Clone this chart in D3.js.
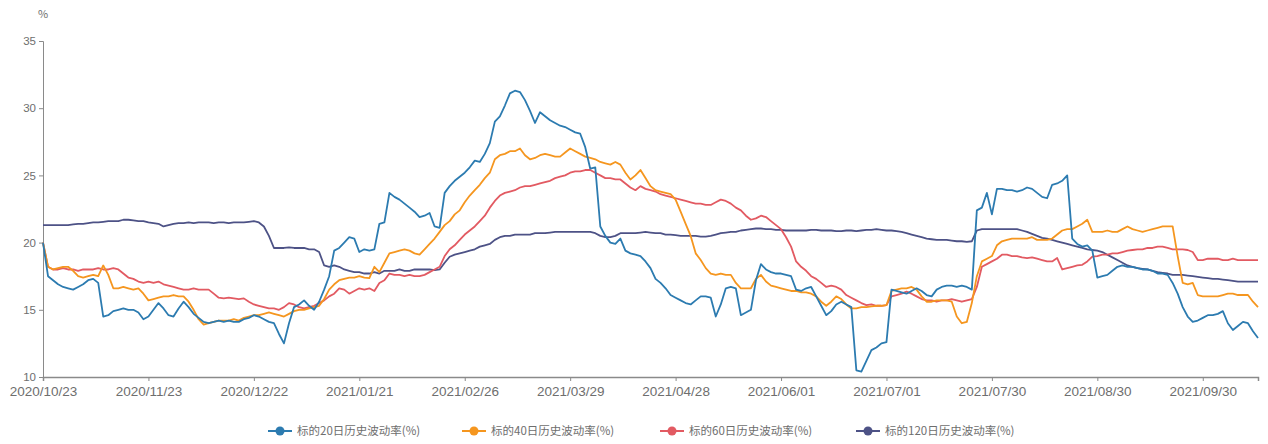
<!DOCTYPE html>
<html><head><meta charset="utf-8">
<script src="https://cdn.jsdelivr.net/npm/d3@7"></script>
<style>
html,body{margin:0;padding:0;background:#fff;}
svg{display:block;font-family:"Noto Sans CJK SC","Noto Sans",sans-serif;}
</style></head>
<body><svg id="c" width="1268" height="444"></svg>
<script>
// ---- data ----
const startDate = "2020-10-23";
const holidays = ["2021-01-01","2021-02-11","2021-02-12","2021-02-15","2021-02-16","2021-02-17","2021-04-05","2021-05-03","2021-05-04","2021-05-05","2021-06-14","2021-09-20","2021-09-21","2021-10-01","2021-10-04","2021-10-05","2021-10-06","2021-10-07"];
const tickLabels = ["2020/10/23","2020/11/23","2020/12/22","2021/01/21","2021/02/26","2021/03/29","2021/04/28","2021/06/01","2021/07/01","2021/07/30","2021/08/30","2021/09/30"];
const yTicks = [10,15,20,25,30,35];
const seriesNames = ["标的20日历史波动率(%)","标的40日历史波动率(%)","标的60日历史波动率(%)","标的120日历史波动率(%)"];
const seriesColors = ["#2c7bb0","#f5961f","#e25a62","#4d5286"];

const vol20 = [
20.0,17.5,17.2,16.9,16.7,16.6,16.5,16.7,16.9,17.2,
17.3,17.0,14.5,14.6,14.9,15.0,15.1,15.0,15.0,14.8,
14.3,14.5,15.0,15.5,15.1,14.6,14.5,15.1,15.6,15.2,
14.7,14.4,14.1,14.0,14.1,14.2,14.1,14.2,14.1,14.1,
14.3,14.4,14.6,14.5,14.3,14.1,14.0,13.2,12.5,14.0,
15.2,15.4,15.7,15.3,15.0,15.6,16.5,17.5,19.4,19.6,
20.0,20.4,20.3,19.3,19.5,19.4,19.5,21.4,21.5,23.7,
23.4,23.2,22.9,22.6,22.3,21.9,22.0,22.2,21.2,21.1,
23.7,24.2,24.6,24.9,25.2,25.6,26.1,26.0,26.6,27.4,
29.0,29.4,30.2,31.1,31.3,31.2,30.6,29.8,28.9,29.7,
29.4,29.1,28.9,28.7,28.6,28.4,28.2,28.1,27.1,25.5,
25.6,21.2,20.5,20.0,19.9,20.3,19.4,19.2,19.1,19.0,
18.6,18.1,17.3,17.0,16.6,16.1,15.9,15.7,15.5,15.4,
15.7,16.0,16.0,15.9,14.5,15.4,16.6,16.7,16.6,14.6,
14.8,15.0,17.2,18.4,18.0,17.8,17.7,17.7,17.6,17.5,
16.5,16.4,16.6,16.7,16.0,15.3,14.6,14.9,15.4,15.6,
15.4,15.2,10.5,10.4,11.2,12.0,12.2,12.5,12.6,16.5,
16.4,16.3,16.2,16.4,16.6,16.4,16.1,16.0,16.5,16.7,
16.8,16.8,16.7,16.8,16.7,16.5,22.4,22.6,23.7,22.1,
24.0,24.0,23.9,23.9,23.8,23.9,24.1,24.0,23.7,23.4,
23.3,24.3,24.4,24.6,25.0,20.3,19.9,19.7,19.8,19.4,
17.4,17.5,17.6,17.9,18.2,18.3,18.2,18.2,18.1,18.0,
18.0,17.9,17.7,17.7,17.6,17.0,16.2,15.2,14.5,14.1,
14.2,14.4,14.6,14.6,14.7,14.9,14.0,13.5,13.8,14.1,
14.0,13.4,12.9];

const vol40 = [
20.0,18.2,18.0,18.1,18.2,18.2,17.9,17.5,17.4,17.5,
17.6,17.5,18.3,17.6,16.6,16.6,16.7,16.6,16.5,16.6,
16.2,15.7,15.8,15.9,16.0,16.0,16.1,16.0,16.0,15.6,
15.0,14.3,13.9,14.0,14.1,14.2,14.2,14.2,14.3,14.2,
14.4,14.5,14.6,14.6,14.7,14.8,14.7,14.6,14.5,14.7,
14.9,15.0,15.0,15.1,15.2,15.3,15.8,16.5,16.9,17.2,
17.3,17.4,17.4,17.5,17.4,17.35,18.2,17.8,18.5,19.2,
19.3,19.4,19.5,19.4,19.2,19.1,19.5,19.9,20.3,20.8,
21.3,21.6,22.1,22.4,23.0,23.5,23.9,24.3,24.8,25.2,
26.2,26.5,26.6,26.8,26.8,27.0,26.5,26.2,26.3,26.5,
26.6,26.5,26.4,26.4,26.7,27.0,26.8,26.6,26.4,26.3,
26.2,26.0,25.9,25.8,26.0,25.8,25.2,24.7,25.0,25.4,
24.8,24.2,23.9,23.8,23.7,23.6,23.2,22.3,21.4,20.5,
19.2,18.7,18.1,17.7,17.6,17.7,17.6,17.6,17.0,16.6,
16.6,16.6,17.3,17.6,17.1,16.8,16.7,16.6,16.5,16.4,
16.4,16.3,16.3,16.2,16.0,15.6,15.3,15.6,16.0,15.8,
15.4,15.1,15.1,15.2,15.2,15.25,15.3,15.3,15.35,16.4,
16.5,16.6,16.6,16.7,16.5,16.0,15.6,15.6,15.7,15.7,
15.7,15.6,14.5,14.0,14.1,15.5,17.5,18.6,18.8,19.0,
19.8,20.1,20.2,20.3,20.3,20.3,20.3,20.4,20.2,20.2,
20.2,20.3,20.6,20.9,21.0,21.0,21.2,21.4,21.7,20.8,
20.8,20.8,20.9,20.8,20.8,21.0,21.2,21.0,20.9,20.8,
20.9,21.0,21.1,21.2,21.2,21.2,19.0,17.0,16.9,17.0,
16.1,16.0,16.0,16.0,16.0,16.1,16.2,16.2,16.1,16.1,
16.1,15.6,15.2];

const vol60 = [
20.0,18.2,18.0,18.0,18.1,18.0,18.0,17.9,18.0,18.0,
18.0,18.1,18.0,18.0,18.1,18.0,17.7,17.4,17.3,17.1,
17.0,17.1,17.0,17.1,16.9,16.8,16.7,16.6,16.5,16.5,
16.6,16.5,16.5,16.5,16.2,15.9,15.85,15.9,15.85,15.8,
15.85,15.6,15.4,15.3,15.2,15.1,15.1,15.0,15.2,15.5,
15.4,15.2,15.1,15.2,15.3,15.5,15.7,16.0,16.2,16.6,
16.5,16.2,16.4,16.6,16.5,16.6,16.4,17.0,17.2,17.7,
17.6,17.6,17.5,17.6,17.5,17.5,17.6,17.8,18.0,18.2,
19.0,19.5,19.8,20.2,20.6,20.9,21.2,21.6,22.0,22.6,
23.1,23.5,23.7,23.8,23.9,24.1,24.2,24.2,24.3,24.4,
24.5,24.6,24.8,24.9,25.0,25.2,25.3,25.3,25.4,25.4,
25.2,25.0,24.8,24.8,24.7,24.7,24.4,24.1,23.9,24.2,
24.0,23.9,23.8,23.6,23.5,23.4,23.3,23.2,23.1,23.0,
22.9,22.9,22.8,22.8,23.0,23.2,23.1,22.9,22.6,22.4,
22.0,21.7,21.8,22.0,21.9,21.6,21.3,21.0,20.4,19.7,
18.6,18.2,17.9,17.5,17.3,17.0,16.7,16.8,16.7,16.5,
16.1,15.9,15.7,15.5,15.35,15.4,15.3,15.3,15.35,16.0,
16.1,16.2,16.35,16.2,16.0,15.8,15.7,15.7,15.6,15.7,
15.7,15.8,15.7,15.6,15.7,15.8,16.7,18.2,18.4,18.6,
18.8,19.1,19.1,19.0,19.0,18.9,18.85,18.9,18.8,18.7,
18.6,18.6,18.85,18.0,18.1,18.2,18.3,18.35,18.6,18.95,
19.0,19.1,19.1,19.2,19.2,19.3,19.4,19.45,19.5,19.5,
19.6,19.6,19.7,19.7,19.6,19.5,19.5,19.5,19.45,19.3,
18.7,18.7,18.8,18.8,18.8,18.7,18.7,18.8,18.7,18.7,
18.7,18.7,18.7];

const vol120 = [
21.3,21.3,21.3,21.3,21.3,21.3,21.35,21.4,21.4,21.45,
21.5,21.5,21.55,21.6,21.6,21.6,21.7,21.7,21.65,21.6,
21.6,21.5,21.45,21.4,21.2,21.3,21.4,21.45,21.45,21.5,
21.45,21.5,21.5,21.5,21.45,21.5,21.5,21.45,21.5,21.5,
21.5,21.55,21.6,21.5,21.2,20.5,19.6,19.6,19.6,19.65,
19.6,19.6,19.6,19.5,19.5,19.3,18.3,18.2,18.3,18.2,
18.0,17.9,17.8,17.8,17.7,17.7,17.8,17.7,17.9,17.9,
17.9,18.0,17.9,17.9,18.0,18.0,18.0,18.0,17.95,18.0,
18.5,18.95,19.1,19.2,19.3,19.4,19.5,19.7,19.8,19.9,
20.2,20.4,20.5,20.5,20.6,20.6,20.6,20.6,20.7,20.7,
20.7,20.75,20.8,20.8,20.8,20.8,20.8,20.8,20.8,20.8,
20.7,20.5,20.4,20.4,20.5,20.7,20.7,20.7,20.7,20.75,
20.8,20.75,20.7,20.7,20.6,20.6,20.55,20.5,20.5,20.5,
20.5,20.45,20.45,20.5,20.6,20.7,20.75,20.8,20.8,20.9,
20.95,21.0,21.05,21.05,21.0,21.0,20.95,20.95,20.9,20.9,
20.9,20.9,20.9,20.95,20.95,20.9,20.9,20.9,20.85,20.85,
20.9,20.9,20.85,20.9,20.95,20.95,21.0,20.95,20.9,20.9,
20.85,20.8,20.7,20.6,20.5,20.4,20.3,20.25,20.2,20.2,
20.2,20.15,20.1,20.1,20.05,20.1,20.9,21.0,21.0,21.0,
21.0,21.0,21.0,21.0,21.0,20.9,20.8,20.65,20.5,20.35,
20.3,20.2,20.1,20.0,19.9,19.8,19.7,19.6,19.5,19.45,
19.4,19.3,19.1,18.9,18.7,18.5,18.3,18.2,18.1,18.05,
18.0,17.9,17.8,17.75,17.7,17.6,17.6,17.6,17.55,17.5,
17.45,17.4,17.35,17.3,17.3,17.25,17.2,17.15,17.1,17.1,
17.1,17.1,17.1];

// ---- trading-day categories ----
const fmt = d3.timeFormat("%Y/%m/%d"), iso = d3.timeFormat("%Y-%m-%d");
const holidaySet = new Set(holidays);
const categories = [];
let d = d3.timeParse("%Y-%m-%d")(startDate);
while (categories.length < vol20.length) {
  const wd = d.getDay();
  if (wd !== 0 && wd !== 6 && !holidaySet.has(iso(d))) categories.push(fmt(d));
  d = d3.timeDay.offset(d, 1);
}

const allSeries = [vol20, vol40, vol60, vol120];

// ---- layout ----
const svg = d3.select("#c");
const L = 43, R = 1258, T = 41, B = 377;
const x = d3.scalePoint().domain(categories).range([L, R]);
const y = d3.scaleLinear().domain([10, 35]).range([B, T]);
const axisColor = "#8a8a8a", textColor = "#6e6e6e";

// y axis
const yAxis = svg.append("g").attr("transform", `translate(${L},0)`)
  .call(d3.axisLeft(y).tickValues(yTicks).tickSize(4).tickPadding(3));
yAxis.select(".domain").attr("stroke", axisColor);
yAxis.selectAll(".tick line").attr("stroke", axisColor);
yAxis.selectAll("text").attr("fill", textColor).attr("font-size", 11.5);

svg.append("text").attr("x", 43).attr("y", 18).attr("text-anchor", "middle")
  .attr("fill", textColor).attr("font-size", 11).text("%");

// x axis
const xAxis = svg.append("g").attr("transform", `translate(0,${B})`)
  .call(d3.axisBottom(x).tickValues(tickLabels).tickSize(4).tickPadding(5));
xAxis.select(".domain").attr("stroke", axisColor).attr("stroke-width", 1.5);
xAxis.selectAll(".tick line").attr("stroke", axisColor);
xAxis.selectAll("text").attr("fill", textColor).attr("font-size", 13.5);

// lines
const line = d3.line().x((v, i) => x(categories[i])).y(v => y(v));
const order = [3, 2, 1, 0];
order.forEach(k => {
  svg.append("path").datum(allSeries[k])
    .attr("fill", "none").attr("stroke", seriesColors[k])
    .attr("stroke-width", 1.8).attr("stroke-linejoin", "round")
    .attr("d", line);
});

// legend
const legendX = [268, 462, 660, 856];
const lg = svg.append("g");
seriesNames.forEach((name, k) => {
  const g = lg.append("g").attr("transform", `translate(${legendX[k]},431)`);
  g.append("line").attr("x1", 0).attr("x2", 24).attr("y1", 0).attr("y2", 0)
    .attr("stroke", seriesColors[k]).attr("stroke-width", 2);
  g.append("circle").attr("cx", 12).attr("cy", 0).attr("r", 4.5)
    .attr("fill", seriesColors[k]);
  g.append("text").attr("x", 29).attr("y", 4).attr("fill", textColor)
    .attr("font-size", 11.5).text(name);
});
</script>
</body></html>
